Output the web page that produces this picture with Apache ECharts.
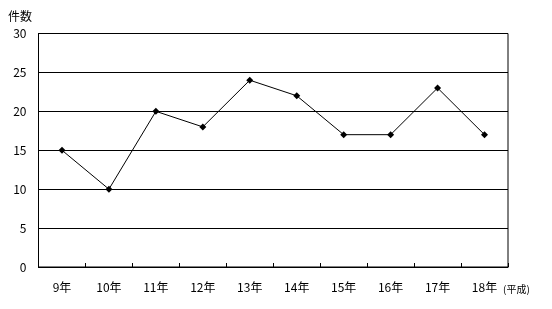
<!DOCTYPE html>
<html><head><meta charset="utf-8">
<script src="https://cdn.jsdelivr.net/npm/echarts@6/dist/echarts.min.js"></script>
<style>html,body{margin:0;padding:0;background:#fff}#c{width:552px;height:309px}</style>
</head><body><div id="c"></div>
<script>
const categories = ['9年','10年','11年','12年','13年','14年','15年','16年','17年','18年'];
const counts = [15, 10, 20, 18, 24, 22, 17, 17, 23, 17];
const yTicks = [0, 5, 10, 15, 20, 25, 30];
const font = '"Noto Sans CJK JP", sans-serif';
const chart = echarts.init(document.getElementById('c'), null, {renderer: 'canvas'});
chart.setOption({
  backgroundColor: '#fff',
  animation: false,
  grid: {left: 38.5, right: 44, top: 33.5, bottom: 42, show: true, borderColor: '#000', borderWidth: 1, backgroundColor: 'transparent'},
  xAxis: {
    type: 'category', data: categories, boundaryGap: true,
    axisLine: {lineStyle: {color: '#000', width: 1}},
    axisTick: {show: true, inside: true, length: 4, lineStyle: {color: '#000'}},
    axisLabel: {color: '#000', fontSize: 12, fontFamily: font, margin: 14},
    splitLine: {show: false}
  },
  yAxis: {
    type: 'value', min: yTicks[0], max: yTicks[yTicks.length - 1], interval: 5,
    axisLine: {show: true, lineStyle: {color: '#000', width: 1}},
    axisTick: {show: false},
    axisLabel: {color: '#000', fontSize: 12, fontFamily: font, margin: 12},
    splitLine: {show: true, lineStyle: {color: '#000', width: 1}}
  },
  graphic: [
    {type: 'text', left: 8, top: 10, style: {text: '件数', fill: '#000', font: '12px ' + font}},
    {type: 'text', left: 503, top: 284, style: {text: '(平成)', fill: '#000', font: '10px ' + font}}
  ],
  series: [{
    type: 'line', data: counts,
    symbol: 'diamond', symbolSize: 7,
    lineStyle: {color: '#000', width: 1},
    itemStyle: {color: '#000'}
  }]
});
</script></body></html>
